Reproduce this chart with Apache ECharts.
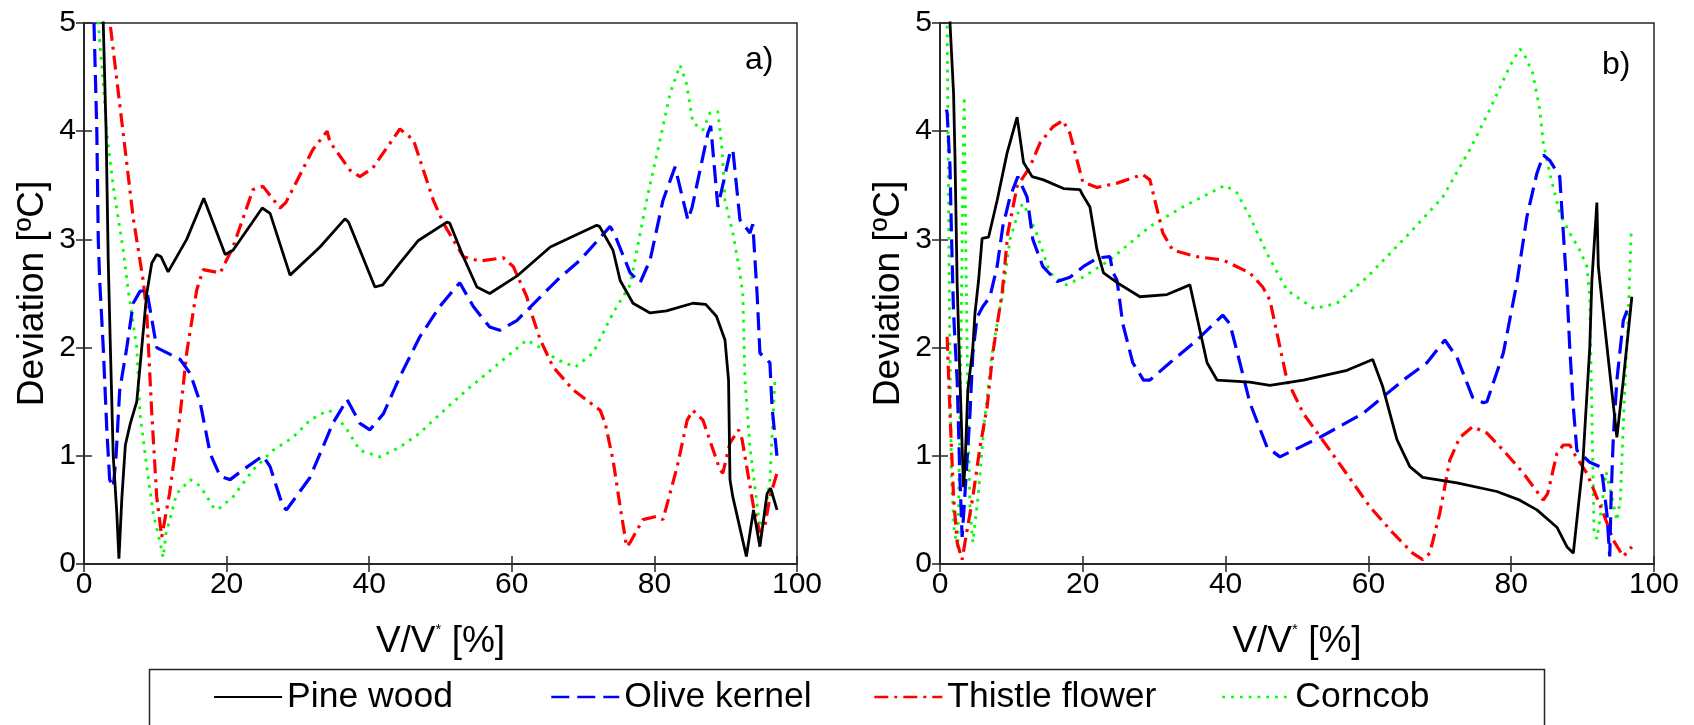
<!DOCTYPE html>
<html>
<head>
<meta charset="utf-8">
<script src="https://cdn.jsdelivr.net/npm/echarts@6/dist/echarts.min.js"></script>
<style>
html,body{margin:0;padding:0;background:#fff;}
#chart{width:1694px;height:725px;}
</style>
</head>
<body>
<div id="chart"></div>
<script>
// ---- data (x = V/V* [%], y = Deviation [ºC]) ----
const xTicks = [0, 20, 40, 60, 80, 100];
const yTicks = [0, 1, 2, 3, 4, 5];
const seriesNames = ['Pine wood', 'Olive kernel', 'Thistle flower', 'Corncob'];
const panelLabels = ['a)', 'b)'];

const pineA = [[2.6,5.5],[2.7,5.0],[3.1,4.0],[3.4,2.8],[3.7,2.0],[4.1,1.0],[4.6,0.47],[4.9,0.05],[5.3,0.6],[5.8,1.1],[6.5,1.3],[7.4,1.5],[8.1,2.0],[8.8,2.5],[9.5,2.78],[10.2,2.86],[10.8,2.84],[11.8,2.70],[14.4,3.0],[16.8,3.38],[19.8,2.86],[20.9,2.9],[25.0,3.29],[26.1,3.24],[28.9,2.67],[33.1,2.93],[36.6,3.19],[37.1,3.16],[40.8,2.56],[41.9,2.58],[44.3,2.78],[46.9,2.99],[50.9,3.16],[51.3,3.15],[53.2,2.84],[55.1,2.56],[56.9,2.50],[60.7,2.66],[65.4,2.93],[71.9,3.13],[72.3,3.12],[74.2,2.9],[75.2,2.62],[77.0,2.41],[79.4,2.32],[81.7,2.34],[85.4,2.41],[87.2,2.40],[88.7,2.29],[89.9,2.07],[90.4,1.70],[90.6,0.78],[91.0,0.62],[92.9,0.07],[93.9,0.50],[94.8,0.16],[95.8,0.65],[96.3,0.70],[97.2,0.50]];
const oliveA = [[1.4,5.0],[1.8,4.0],[2.0,3.0],[2.2,2.62],[2.7,2.0],[3.2,1.24],[3.6,0.78],[4.1,0.71],[4.5,1.0],[5.0,1.6],[6.0,2.0],[6.9,2.41],[7.85,2.52],[8.8,2.53],[10.2,2.0],[13.5,1.89],[14.9,1.76],[16.3,1.49],[17.7,1.02],[19.1,0.81],[20.5,0.78],[22.3,0.87],[25.1,1.0],[26.1,0.9],[27.9,0.53],[28.4,0.5],[31.7,0.8],[34.9,1.3],[36.9,1.52],[38.7,1.3],[40.1,1.24],[42.0,1.39],[44.3,1.73],[47.1,2.1],[49.9,2.38],[52.7,2.6],[54.6,2.38],[56.9,2.19],[58.3,2.16],[60.7,2.25],[66.3,2.62],[69.6,2.81],[73.8,3.12],[74.4,3.05],[76.6,2.69],[78.0,2.6],[79.4,2.81],[81.2,3.36],[82.9,3.67],[84.7,3.18],[85.3,3.3],[87.5,3.98],[87.9,4.05],[88.9,3.3],[90.6,3.8],[91.0,3.83],[92.0,3.18],[93.4,3.06],[93.8,3.14],[94.4,2.5],[94.8,1.95],[96.2,1.86],[96.5,1.45],[97.2,0.99]];
const thistleA = [[3.4,5.5],[3.65,5.0],[5.5,3.98],[6.9,3.2],[8.3,2.62],[8.8,2.32],[9.5,1.4],[10.2,0.62],[10.9,0.25],[12.0,0.65],[13.5,1.39],[14.4,1.95],[15.8,2.53],[16.7,2.72],[19.1,2.69],[20.9,2.93],[23.7,3.46],[25.1,3.49],[27.5,3.29],[28.3,3.34],[32.1,3.83],[34.1,4.0],[34.5,3.9],[37.3,3.64],[38.7,3.58],[40.5,3.66],[44.3,4.02],[46.2,3.92],[49.0,3.36],[50.4,3.15],[53.2,2.84],[55.5,2.8],[58.8,2.83],[60.2,2.75],[62.1,2.47],[62.6,2.35],[64.0,2.07],[65.8,1.82],[68.6,1.61],[72.4,1.42],[73.1,1.3],[74.2,0.96],[75.2,0.53],[76.1,0.16],[76.6,0.2],[78.4,0.41],[80.3,0.44],[81.2,0.41],[83.2,0.9],[84.6,1.33],[85.4,1.42],[86.8,1.33],[89.2,0.87],[89.6,0.84],[90.6,1.12],[91.8,1.24],[92.3,1.15],[93.9,0.53],[94.8,0.29],[95.5,0.35],[96.2,0.62],[97.2,0.84]];
const corncobA = [[1.8,5.5],[2.0,5.0],[2.7,4.44],[3.2,3.98],[4.1,3.49],[5.5,2.9],[6.2,2.53],[7.4,2.0],[7.85,1.39],[8.8,0.9],[9.7,0.47],[10.7,0.19],[11.1,0.06],[11.5,0.28],[13.0,0.65],[14.9,0.78],[16.3,0.72],[18.1,0.53],[18.7,0.5],[20.9,0.62],[23.7,0.87],[26.5,1.05],[29.3,1.17],[31.7,1.33],[34.2,1.42],[35.0,1.4],[36.9,1.24],[38.7,1.05],[41.5,0.99],[44.3,1.08],[47.1,1.21],[49.0,1.33],[53.7,1.61],[58.3,1.86],[62.1,2.07],[64.0,2.0],[66.3,1.89],[68.9,1.82],[71.4,1.95],[74.2,2.32],[76.6,2.58],[78.9,3.36],[80.8,3.92],[82.2,4.35],[83.6,4.61],[84.5,4.44],[85.4,4.08],[86.8,4.01],[87.8,4.17],[88.9,4.18],[89.5,3.83],[89.9,3.36],[91.0,3.06],[92.0,2.69],[92.4,2.5],[92.7,1.7],[93.4,1.08],[94.1,0.71],[94.8,0.34],[95.5,0.45],[96.2,0.78],[96.9,1.7]];

const pineB = [[1.3,5.5],[1.4,5.0],[1.9,4.35],[2.1,3.76],[2.4,2.6],[2.8,1.7],[3.1,1.08],[3.3,0.71],[3.5,0.9],[3.9,1.61],[4.6,2.0],[4.9,2.32],[5.4,2.62],[5.9,3.01],[6.8,3.02],[8.0,3.36],[9.4,3.8],[10.8,4.13],[11.7,3.71],[12.9,3.58],[14.5,3.55],[17.3,3.47],[19.6,3.46],[19.9,3.42],[21.0,3.3],[22.0,2.9],[22.9,2.69],[24.8,2.6],[28.0,2.47],[31.8,2.49],[35.0,2.58],[36.4,2.16],[37.4,1.86],[38.8,1.7],[43.4,1.68],[46.2,1.65],[50.9,1.7],[57.0,1.79],[60.6,1.89],[62.0,1.64],[64.0,1.15],[65.8,0.9],[67.6,0.8],[72.4,0.75],[78.0,0.67],[81.2,0.59],[83.6,0.5],[86.4,0.34],[87.8,0.16],[88.7,0.1],[90.0,0.9],[91.0,2.0],[91.3,2.62],[92.0,3.34],[92.2,2.75],[92.7,2.44],[92.9,2.32],[94.8,1.17],[95.7,1.7],[96.9,2.47]];
const oliveB = [[0.9,4.2],[1.0,4.17],[1.4,3.67],[1.6,3.06],[1.9,2.32],[2.4,1.7],[2.8,0.78],[3.1,0.25],[3.5,0.65],[4.2,1.39],[4.6,1.95],[5.2,2.28],[6.0,2.38],[7.0,2.47],[8.0,2.75],[8.8,3.12],[9.8,3.39],[10.9,3.58],[12.2,3.39],[13.0,3.0],[14.4,2.75],[16.4,2.61],[18.2,2.65],[20.1,2.75],[22.1,2.83],[23.8,2.84],[24.2,2.7],[24.8,2.62],[25.6,2.22],[27.0,1.86],[28.5,1.7],[29.4,1.7],[32.2,1.86],[36.0,2.07],[39.6,2.3],[40.6,2.22],[42.0,1.86],[43.4,1.49],[45.8,1.08],[47.6,0.99],[53.2,1.17],[59.2,1.39],[64.9,1.7],[68.2,1.86],[70.7,2.07],[72.4,1.91],[74.6,1.54],[76.1,1.49],[76.6,1.5],[78.9,1.95],[80.8,2.6],[82.2,3.21],[83.6,3.61],[84.5,3.78],[85.4,3.73],[86.8,3.58],[87.3,3.06],[87.8,2.55],[88.2,2.0],[88.7,1.45],[89.2,1.05],[91.0,0.94],[92.4,0.9],[92.8,0.8],[93.4,0.47],[93.8,0.07],[94.0,0.63],[94.3,1.17],[94.8,1.7],[95.7,2.25],[96.6,2.41]];
const thistleB = [[1.0,2.1],[1.4,1.39],[1.9,0.62],[2.4,0.2],[3.1,0.04],[3.5,0.2],[4.6,0.62],[5.6,1.08],[6.6,1.45],[7.4,1.95],[8.4,2.38],[8.7,2.5],[9.5,3.06],[10.8,3.49],[12.6,3.67],[14.0,3.89],[15.8,4.04],[17.2,4.1],[18.2,3.98],[19.2,3.73],[20.0,3.53],[22.0,3.48],[24.8,3.52],[28.4,3.6],[29.4,3.55],[31.2,3.06],[32.6,2.9],[36.0,2.84],[39.6,2.81],[43.4,2.69],[45.2,2.56],[46.2,2.44],[48.6,1.7],[50.9,1.39],[55.6,0.96],[60.2,0.53],[63.4,0.29],[66.2,0.1],[67.6,0.04],[68.6,0.1],[70.0,0.47],[71.4,0.96],[72.8,1.17],[74.6,1.27],[76.6,1.21],[78.9,1.05],[81.7,0.84],[84.5,0.59],[85.1,0.65],[86.4,1.02],[87.3,1.1],[88.2,1.1],[89.0,1.0],[90.6,0.84],[92.9,0.47],[94.3,0.22],[95.7,0.07],[96.9,0.16]];
const corncobB = [[0.9,5.3],[1.0,5.0],[1.3,2.5],[1.6,0.8],[2.0,0.3],[2.5,0.15],[2.9,1.8],[3.2,3.6],[3.4,4.32],[3.6,3.0],[3.9,1.5],[4.2,0.5],[4.6,0.2],[5.3,0.6],[6.2,1.3],[7.2,1.9],[8.2,2.3],[8.8,2.5],[9.8,3.0],[11.2,3.3],[11.7,3.33],[13.5,3.06],[15.4,2.69],[17.7,2.58],[20.0,2.65],[23.8,2.81],[29.4,3.12],[34.0,3.3],[39.9,3.5],[41.6,3.43],[43.4,3.21],[45.8,2.87],[48.6,2.53],[52.4,2.36],[55.6,2.41],[59.8,2.65],[65.8,3.06],[70.4,3.39],[74.2,3.83],[77.0,4.2],[79.8,4.6],[81.2,4.76],[81.7,4.73],[83.0,4.54],[84.0,4.2],[84.5,3.89],[85.4,3.61],[86.8,3.24],[88.2,3.06],[89.6,2.9],[90.6,2.75],[91.0,2.47],[91.3,1.39],[91.6,0.31],[92.0,0.23],[92.5,0.45],[93.3,0.85],[94.0,0.65],[94.8,0.4],[95.3,0.6],[95.7,1.3],[96.4,2.3],[96.8,3.06]];

// ---- styling ----
const FONT = '"Liberation Sans", Arial, sans-serif';
const AX = '#262626';
const styles = [
  {color:'#000000', width:2.8, type:'solid'},
  {color:'#0000ff', width:3.2, type:[18,8]},
  {color:'#ff0000', width:3.2, type:[14,6,3,6]},
  {color:'#00ff00', width:2.8, type:[2.8,6]}
];

function xAx(grid, pos){
  const main = pos === 'bottom';
  return {
    gridIndex:grid, type:'value', position:pos, min:xTicks[0], max:xTicks[xTicks.length-1], interval:20,
    axisLine:{show:true, lineStyle:{color:AX, width:1.5}},
    axisTick:{show:true, inside:true, length:8, lineStyle:{color:AX, width:1.5}},
    axisLabel:{show:main, fontSize:30, color:'#000', fontFamily:FONT, margin:6},
    splitLine:{show:false},
    name: main ? '{n|V/V}{s|*}{n| [%]}' : '',
    nameLocation:'middle', nameGap:58,
    nameTextStyle:{color:'#000', fontFamily:FONT, fontSize:37,
      rich:{n:{fontSize:37, fontFamily:FONT, color:'#000', lineHeight:40},
            s:{fontSize:15, fontFamily:FONT, color:'#000', verticalAlign:'top', lineHeight:40}}}
  };
}
function yAx(grid, pos){
  const main = pos === 'left';
  return {
    gridIndex:grid, type:'value', position:pos, min:yTicks[0], max:yTicks[yTicks.length-1], interval:1,
    axisLine:{show:true, lineStyle:{color:AX, width:1.5}},
    axisTick:{show:true, inside:true, length:8, lineStyle:{color:AX, width:1.5}},
    axisLabel:{show:main, fontSize:30, color:'#000', fontFamily:FONT, margin:8},
    splitLine:{show:false},
    name: main ? 'Deviation [ºC]' : '',
    nameLocation:'middle', nameGap:33,
    nameTextStyle:{color:'#000', fontFamily:FONT, fontSize:37}
  };
}

const dataA = [pineA, oliveA, thistleA, corncobA];
const dataB = [pineB, oliveB, thistleB, corncobB];
const series = [];
[dataA, dataB].forEach((set, p) => {
  set.forEach((d, i) => {
    series.push({
      name: seriesNames[i], type:'line', data:d,
      xAxisIndex: p*2, yAxisIndex: p*2,
      showSymbol:false, symbol:'none', symbolSize:0, smooth:false, clip:true, silent:true,
      lineStyle:{color:styles[i].color, width:styles[i].width, type:styles[i].type},
      itemStyle:{color:styles[i].color},
      z: 10 - i
    });
  });
});

const legendLeft = [213, 550, 873, 1221];
const legends = seriesNames.map((n, i) => ({
  data:[n], left:legendLeft[i], top:679, padding:0, itemWidth:68, itemHeight:14,
  selectedMode:false,
  itemStyle:{opacity:0},
  lineStyle:{width: i === 0 ? 2.2 : 2.6},
  textStyle:{fontSize:35.5, color:'#000', fontFamily:FONT}
}));

const option = {
  animation:false,
  backgroundColor:'#ffffff',
  grid:[
    {left:84, right:897, top:23, bottom:161, show:true, borderColor:AX, borderWidth:1.5, backgroundColor:'transparent'},
    {left:940, right:40, top:23, bottom:161, show:true, borderColor:AX, borderWidth:1.5, backgroundColor:'transparent'}
  ],
  xAxis:[xAx(0,'bottom'), xAx(0,'top'), xAx(1,'bottom'), xAx(1,'top')],
  yAxis:[yAx(0,'left'), yAx(0,'right'), yAx(1,'left'), yAx(1,'right')],
  legend: legends,
  series: series,
  graphic:[
    {type:'rect', left:147, top:667, shape:{width:1395, height:80}, style:{fill:'none', stroke:AX, lineWidth:1.5}, silent:true},
    {type:'text', left:745, top:44, style:{text:panelLabels[0], fontSize:32, fill:'#000', fontFamily:FONT}},
    {type:'text', left:1602, top:49, style:{text:panelLabels[1], fontSize:32, fill:'#000', fontFamily:FONT}}
  ]
};

const chart = echarts.init(document.getElementById('chart'), null, {renderer:'canvas'});
chart.setOption(option);
</script>
</body>
</html>
